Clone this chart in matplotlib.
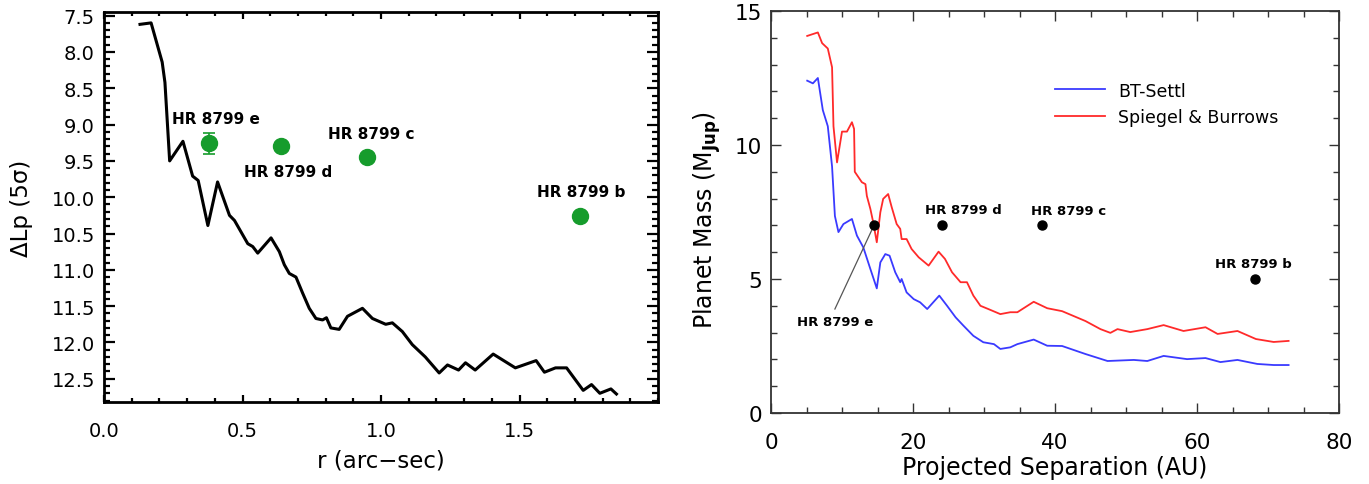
import matplotlib
matplotlib.use("Agg")
import matplotlib.pyplot as plt
from matplotlib.ticker import MultipleLocator

plt.rcParams['font.family'] = ['DejaVu Sans']
plt.rcParams['mathtext.fontset'] = 'dejavusans'

# ---------------- data: left panel ----------------
r_curve = [0.13, 0.17, 0.21, 0.22, 0.237, 0.285, 0.32, 0.34, 0.375, 0.41, 0.453, 0.471,
           0.501, 0.519, 0.537, 0.555, 0.603, 0.633, 0.651, 0.669, 0.693, 0.717, 0.741,
           0.765, 0.789, 0.803, 0.819, 0.849, 0.879, 0.933, 0.969, 1.017, 1.041, 1.077,
           1.113, 1.16, 1.21, 1.24, 1.28, 1.305, 1.34, 1.405, 1.485, 1.56, 1.59, 1.63,
           1.67, 1.73, 1.76, 1.79, 1.83, 1.85]
dlp_curve = [7.62, 7.60, 8.14, 8.42, 9.50, 9.23, 9.71, 9.77, 10.39, 9.79, 10.25, 10.32,
             10.52, 10.64, 10.68, 10.77, 10.56, 10.75, 10.93, 11.05, 11.10, 11.32, 11.53,
             11.67, 11.69, 11.66, 11.80, 11.82, 11.64, 11.53, 11.67, 11.75, 11.73, 11.85,
             12.03, 12.20, 12.42, 12.31, 12.38, 12.28, 12.38, 12.16, 12.35, 12.25, 12.41, 12.35,
             12.35, 12.66, 12.58, 12.70, 12.64, 12.71]

planet_names = ["HR 8799 e", "HR 8799 d", "HR 8799 c", "HR 8799 b"]
planet_r = [0.378, 0.64, 0.95, 1.72]
planet_dlp = [9.26, 9.29, 9.44, 10.26]
planet_dlp_err = [0.15, 0.02, 0.03, 0.03]
label_r = [0.405, 0.664, 0.966, 1.721]
label_dlp = [8.92, 9.64, 9.12, 9.92]

# ---------------- data: right panel ----------------
au_red = [5.1, 6.6, 7.2, 8.0, 8.6, 8.8, 9.3, 10.0, 10.7, 11.4, 11.7, 11.8, 12.8, 13.3,
          13.5, 14.0, 14.4, 14.9, 15.4, 15.8, 16.5, 17.0, 17.7, 18.2, 18.4, 19.1, 19.8,
          20.8, 22.2, 23.6, 24.5, 25.5, 26.7, 27.6, 28.5, 29.5, 30.6, 32.3, 33.7, 34.7,
          37.0, 38.9, 41.0, 44.3, 46.4, 47.8, 48.8, 50.6, 53.0, 55.3, 58.1, 61.2, 62.9,
          65.7, 68.3, 70.8, 72.9]
mass_red = [14.07, 14.2, 13.8, 13.6, 12.9, 10.7, 9.35, 10.5, 10.5, 10.85, 10.6, 9.0, 8.61, 8.54,
            8.1, 7.61, 7.11, 6.37, 7.49, 7.99, 8.17, 7.68, 7.05, 6.87, 6.49, 6.49, 6.12,
            5.81, 5.50, 6.02, 5.75, 5.25, 4.88, 4.88, 4.38, 4.0, 3.88, 3.69, 3.76, 3.76,
            4.15, 3.91, 3.8, 3.43, 3.13, 2.99, 3.13, 3.02, 3.13, 3.28, 3.06, 3.2, 2.95,
            3.06, 2.76, 2.65, 2.69]
au_blue = [5.1, 5.9, 6.6, 7.3, 8.0, 8.6, 9.0, 9.5, 10.2, 11.4, 12.1, 13.0, 14.0, 14.9,
           15.4, 16.1, 16.7, 17.5, 18.2, 18.4, 19.1, 20.1, 21.0, 22.0, 23.7, 24.8, 26.0,
           27.1, 28.5, 29.9, 31.4, 32.3, 33.7, 34.7, 37.0, 38.9, 41.0, 44.3, 47.4, 51.1,
           53.0, 55.3, 58.6, 61.2, 63.3, 65.7, 68.5, 70.8, 72.9]
mass_blue = [12.4, 12.3, 12.5, 11.3, 10.7, 9.2, 7.35, 6.75, 7.05, 7.24, 6.62, 6.18, 5.37, 4.65,
             5.62, 5.93, 5.87, 5.25, 4.88, 5.0, 4.50, 4.25, 4.13, 3.88, 4.38, 4.0, 3.57,
             3.26, 2.88, 2.64, 2.57, 2.39, 2.45, 2.57, 2.74, 2.51, 2.5, 2.2, 1.94, 1.98,
             1.94, 2.13, 2.01, 2.05, 1.9, 1.98, 1.83, 1.79, 1.79]
planet_au = [14.5, 24.1, 38.1, 68.1]
planet_mass = [7.0, 7.0, 7.0, 5.0]
label_au = [9.0, 27.1, 41.9, 68.0]
label_mass = [3.43, 7.58, 7.54, 5.56]
series_names = ["BT-Settl", "Spiegel & Burrows"]

fig = plt.figure(figsize=(13.69, 4.85), dpi=100)

# ---------------- left panel ----------------
ax1 = fig.add_axes([104/1369, 82/485, 554/1369, 390/485])
ax1.plot(r_curve, dlp_curve, color='black', lw=2.2)
ax1.errorbar(planet_r, planet_dlp, yerr=planet_dlp_err, fmt='o', color='#169c2c',
             ms=11.5, capsize=4, elinewidth=1.2, capthick=1.2, zorder=3)
for name, x, y in zip(planet_names, label_r, label_dlp):
    ax1.text(x, y, name, ha='center', va='center', fontsize=11, fontweight='bold')
ax1.set_xlim(0, 2.0)
ax1.set_ylim(12.82, 7.45)
ax1.xaxis.set_major_locator(MultipleLocator(0.5))
ax1.xaxis.set_minor_locator(MultipleLocator(0.1))
ax1.yaxis.set_major_locator(MultipleLocator(0.5))
ax1.yaxis.set_minor_locator(MultipleLocator(0.1))
ax1.set_xticks([0.0, 0.5, 1.0, 1.5])
ax1.set_xticklabels(['0.0', '0.5', '1.0', '1.5'])
ax1.tick_params(which='both', direction='in', top=True, right=True, width=1.6, labelsize=14)
ax1.tick_params(axis='y', which='major', length=8, pad=6.5)
ax1.tick_params(axis='y', which='minor', length=4)
ax1.tick_params(axis='x', which='major', length=5, pad=14)
ax1.tick_params(axis='x', which='minor', length=3)
for s in ax1.spines.values():
    s.set_linewidth(2)
ax1.set_xlabel('r (arc\u2212sec)', fontsize=16.5)
ax1.xaxis.set_label_coords(0.5, -0.118)
ax1.set_ylabel('\u0394Lp (5\u03c3)', fontsize=16.5)
ax1.yaxis.set_label_coords(-0.128, 0.5)

# ---------------- right panel ----------------
ax2 = fig.add_axes([771/1369, 71/485, 568/1369, 402/485])
ax2.plot(au_blue, mass_blue, color='#3a3aff', lw=1.3, label=series_names[0])
ax2.plot(au_red, mass_red, color='#ff2a2a', lw=1.3, label=series_names[1])
ax2.plot(planet_au, planet_mass, 'o', color='black', ms=6.5, zorder=3)
ax2.plot([planet_au[0], label_au[0]], [planet_mass[0], label_mass[0] + 0.45],
         color='#555555', lw=0.9)
for name, x, y in zip(planet_names, label_au, label_mass):
    ax2.text(x, y, name, ha='center', va='center', fontsize=9.5, fontweight='bold')
ax2.set_xlim(0, 80)
ax2.set_ylim(0, 15)
ax2.xaxis.set_major_locator(MultipleLocator(20))
ax2.xaxis.set_minor_locator(MultipleLocator(5))
ax2.yaxis.set_major_locator(MultipleLocator(5))
ax2.yaxis.set_minor_locator(MultipleLocator(1))
ax2.tick_params(which='both', direction='in', top=True, right=True, width=1.0,
                color='#333333', labelsize=15.5)
ax2.tick_params(which='major', length=7)
ax2.tick_params(which='minor', length=4)
ax2.tick_params(axis='y', pad=6.5)
ax2.tick_params(axis='x', pad=13.5)
for s in ax2.spines.values():
    s.set_linewidth(1.3)
    s.set_color('#333333')
ax2.set_xlabel('Projected Separation (AU)', fontsize=17)
ax2.xaxis.set_label_coords(0.5, -0.105)
ax2.set_ylabel(r'Planet Mass (M$_{\mathbf{Jup}}$)', fontsize=17)
ax2.yaxis.set_label_coords(-0.085, 0.483)
leg = ax2.legend(loc='center left', bbox_to_anchor=(0.5, 0.769), frameon=False,
                 fontsize=12.5, handlelength=2.9, handletextpad=0.75,
                 labelspacing=0.5, borderpad=0, borderaxespad=0)

fig.savefig('out.png', dpi=100)
